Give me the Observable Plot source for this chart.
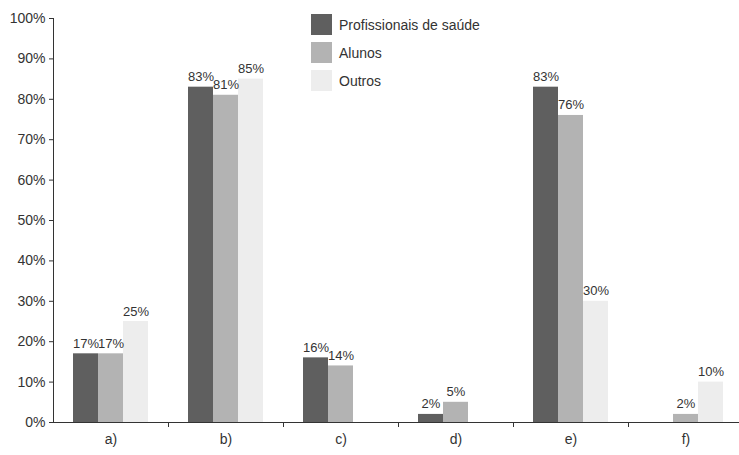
<!DOCTYPE html>
<html>
<head>
<meta charset="utf-8">
<script src="https://cdn.jsdelivr.net/npm/d3@7"></script>
<script src="https://cdn.jsdelivr.net/npm/@observablehq/plot@0.6"></script>
<style>
  html, body { margin: 0; padding: 0; background: #fff; }
  #wrap { position: relative; width: 739px; height: 455px; font-family: "Liberation Sans", Arial, sans-serif; color: #333; }
  #legend { position: absolute; left: 311px; top: 14px; font-size: 14px; }
  .item { display: flex; align-items: center; height: 21px; margin-bottom: 7px; }
  .sw { width: 21px; height: 21px; margin-right: 7px; }
</style>
</head>
<body>
<div id="wrap"><div id="legend"></div></div>
<script>
const categories = ["a)", "b)", "c)", "d)", "e)", "f)"];
const series = ["Profissionais de saúde", "Alunos", "Outros"];
const profissionais = [17, 83, 16, 2, 83, null];
const alunos = [17, 81, 14, 5, 76, 2];
const outros = [25, 85, null, null, 30, 10];
const yTicks = [0, 10, 20, 30, 40, 50, 60, 70, 80, 90, 100];
const colors = ["#5f5f5f", "#b3b3b3", "#ededed"];

const seriesValues = [profissionais, alunos, outros];
const data = [];
categories.forEach((c, i) => {
  series.forEach((s, j) => {
    const v = seriesValues[j][i];
    if (v != null) data.push({cat: c, series: s, value: v});
  });
});

const chart = Plot.plot({
  width: 739,
  height: 455,
  marginLeft: 53,
  marginRight: -4,
  marginTop: 18,
  marginBottom: 33,
  style: {fontFamily: "'Liberation Sans', Arial, sans-serif", fontSize: "14px", color: "#333", background: "transparent"},
  fx: {domain: categories, padding: 0, label: null},
  x: {domain: series, paddingInner: 0, paddingOuter: 0.74, axis: null},
  y: {domain: [0, 100], ticks: yTicks, tickFormat: d => d + "%", label: null, tickSize: 4, tickPadding: 4, line: true},
  color: {domain: series, range: colors},
  marks: [
    Plot.barY(data, {fx: "cat", x: "series", y: "value", fill: "series"}),
    Plot.text(data, {fx: "cat", x: "series", y: "value", text: d => d.value + "%", dy: -6, lineAnchor: "bottom", fill: "#333", fontSize: 13}),
    Plot.ruleY([0], {stroke: "#333"}),
    Plot.axisFx({anchor: "bottom", tickSize: 0, tickPadding: 12, label: null}),
    Plot.axisFx({anchor: "bottom", ticks: categories.slice(1), tickSize: 5, tickFormat: () => "", label: null, dx: -57.5})
  ]
});
const wrap = document.getElementById("wrap");
wrap.insertBefore(chart, wrap.firstChild);

const legend = document.getElementById("legend");
series.forEach((s, j) => {
  const it = document.createElement("div");
  it.className = "item";
  const sw = document.createElement("div");
  sw.className = "sw";
  sw.style.background = colors[j];
  const t = document.createElement("span");
  t.textContent = s;
  it.appendChild(sw);
  it.appendChild(t);
  legend.appendChild(it);
});
</script>
</body>
</html>
